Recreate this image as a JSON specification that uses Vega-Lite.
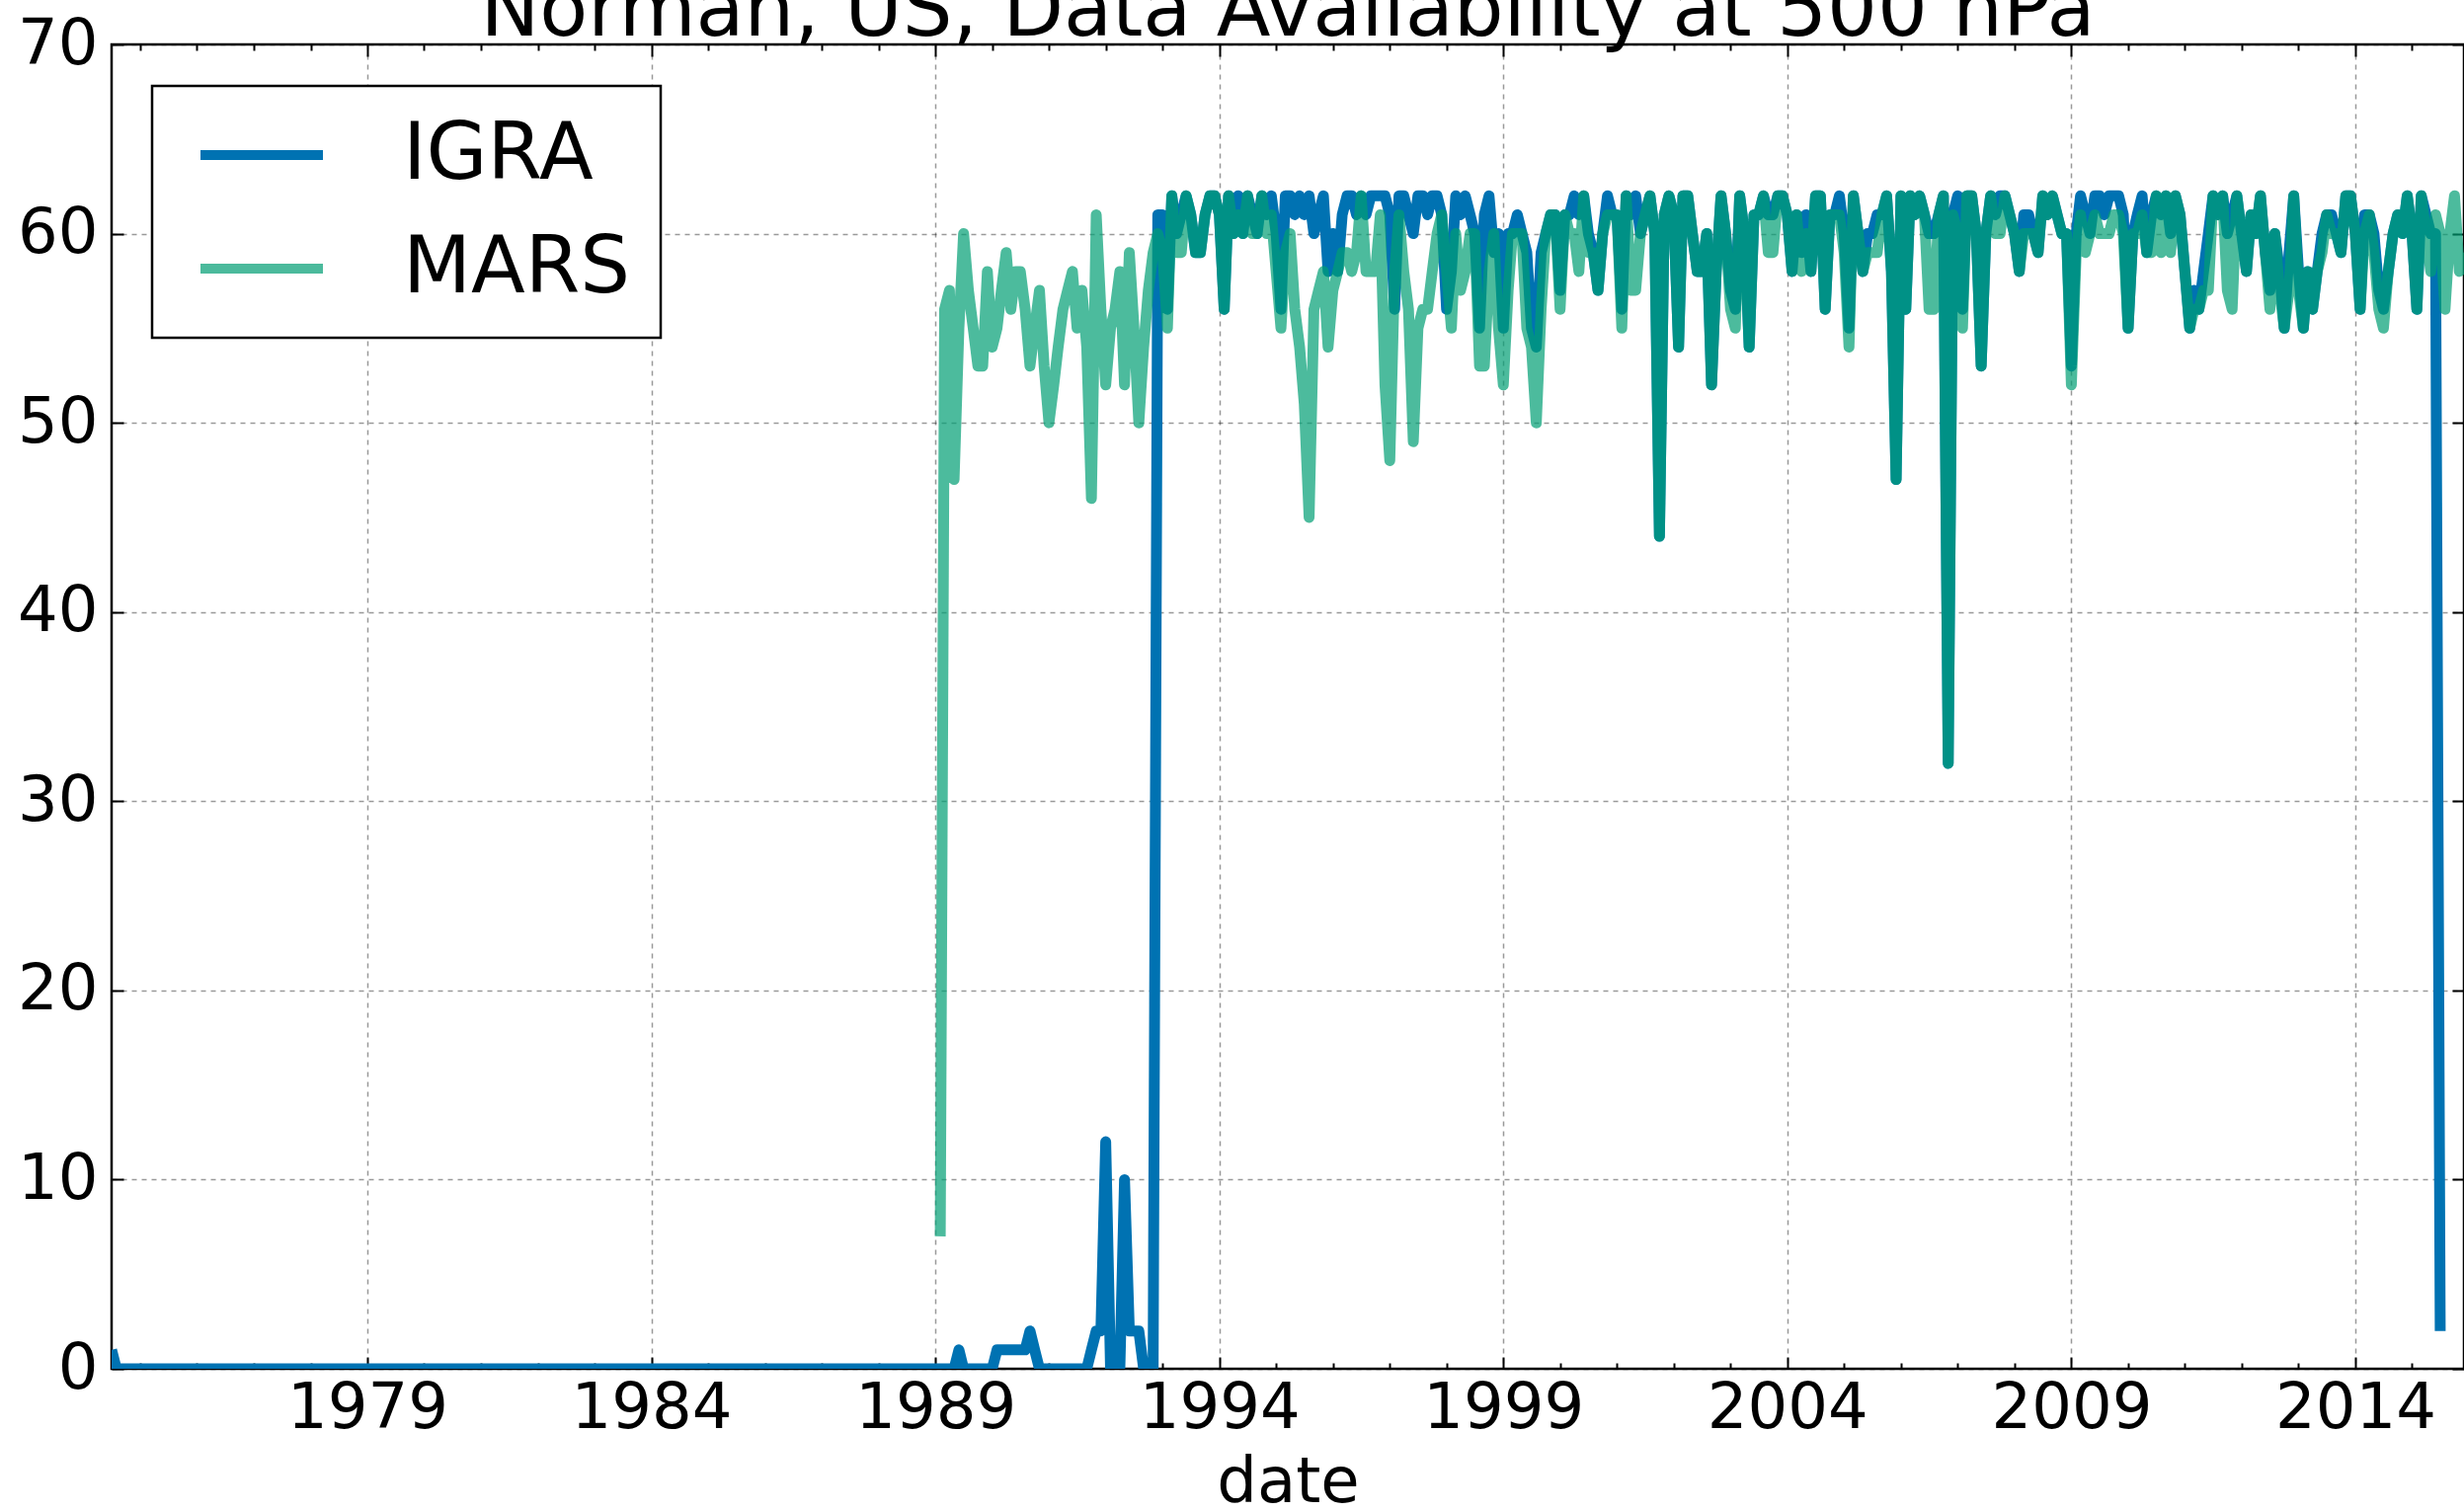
{
"$schema": "https://vega.github.io/schema/vega-lite/v6.json",
"autosize": {"type": "none"},
"padding": {"left": 113, "top": 45, "right": 0, "bottom": 145},
"width": 2382,
"height": 1341,
"background": "white",
"config": {
 "font": "DejaVu Sans",
 "view": {"stroke": "black", "strokeWidth": 2.5},
 "axis": {"domain": false, "zindex": 1, "labelFont": "DejaVu Sans", "titleFont": "DejaVu Sans", "labelFontSize": 64, "titleFontSize": 64, "labelColor": "black", "titleColor": "black", "titleFontWeight": "normal", "tickColor": "black", "tickWidth": 2, "gridColor": "black", "gridWidth": 1.5, "gridDash": [5, 5], "labelFlush": false, "labelOverlap": false},
 "legend": {"strokeWidth": 2.5}
},
"title": {"text": "Norman, US, Data Availability at 500 hPa", "fontSize": 80, "fontWeight": "normal", "font": "DejaVu Sans", "color": "black", "baseline": "alphabetic", "offset": 0, "dy": 103, "anchor": "middle"},
"data": {"values": [
{"date":"1974-07","IGRA":1},{"date":"1974-08","IGRA":0},{"date":"1974-09","IGRA":0},{"date":"1974-10","IGRA":0},{"date":"1974-11","IGRA":0},{"date":"1974-12","IGRA":0},
{"date":"1975-01","IGRA":0},{"date":"1975-02","IGRA":0},{"date":"1975-03","IGRA":0},{"date":"1975-04","IGRA":0},{"date":"1975-05","IGRA":0},{"date":"1975-06","IGRA":0},{"date":"1975-07","IGRA":0},{"date":"1975-08","IGRA":0},{"date":"1975-09","IGRA":0},{"date":"1975-10","IGRA":0},{"date":"1975-11","IGRA":0},{"date":"1975-12","IGRA":0},
{"date":"1976-01","IGRA":0},{"date":"1976-02","IGRA":0},{"date":"1976-03","IGRA":0},{"date":"1976-04","IGRA":0},{"date":"1976-05","IGRA":0},{"date":"1976-06","IGRA":0},{"date":"1976-07","IGRA":0},{"date":"1976-08","IGRA":0},{"date":"1976-09","IGRA":0},{"date":"1976-10","IGRA":0},{"date":"1976-11","IGRA":0},{"date":"1976-12","IGRA":0},
{"date":"1977-01","IGRA":0},{"date":"1977-02","IGRA":0},{"date":"1977-03","IGRA":0},{"date":"1977-04","IGRA":0},{"date":"1977-05","IGRA":0},{"date":"1977-06","IGRA":0},{"date":"1977-07","IGRA":0},{"date":"1977-08","IGRA":0},{"date":"1977-09","IGRA":0},{"date":"1977-10","IGRA":0},{"date":"1977-11","IGRA":0},{"date":"1977-12","IGRA":0},
{"date":"1978-01","IGRA":0},{"date":"1978-02","IGRA":0},{"date":"1978-03","IGRA":0},{"date":"1978-04","IGRA":0},{"date":"1978-05","IGRA":0},{"date":"1978-06","IGRA":0},{"date":"1978-07","IGRA":0},{"date":"1978-08","IGRA":0},{"date":"1978-09","IGRA":0},{"date":"1978-10","IGRA":0},{"date":"1978-11","IGRA":0},{"date":"1978-12","IGRA":0},
{"date":"1979-01","IGRA":0},{"date":"1979-02","IGRA":0},{"date":"1979-03","IGRA":0},{"date":"1979-04","IGRA":0},{"date":"1979-05","IGRA":0},{"date":"1979-06","IGRA":0},{"date":"1979-07","IGRA":0},{"date":"1979-08","IGRA":0},{"date":"1979-09","IGRA":0},{"date":"1979-10","IGRA":0},{"date":"1979-11","IGRA":0},{"date":"1979-12","IGRA":0},
{"date":"1980-01","IGRA":0},{"date":"1980-02","IGRA":0},{"date":"1980-03","IGRA":0},{"date":"1980-04","IGRA":0},{"date":"1980-05","IGRA":0},{"date":"1980-06","IGRA":0},{"date":"1980-07","IGRA":0},{"date":"1980-08","IGRA":0},{"date":"1980-09","IGRA":0},{"date":"1980-10","IGRA":0},{"date":"1980-11","IGRA":0},{"date":"1980-12","IGRA":0},
{"date":"1981-01","IGRA":0},{"date":"1981-02","IGRA":0},{"date":"1981-03","IGRA":0},{"date":"1981-04","IGRA":0},{"date":"1981-05","IGRA":0},{"date":"1981-06","IGRA":0},{"date":"1981-07","IGRA":0},{"date":"1981-08","IGRA":0},{"date":"1981-09","IGRA":0},{"date":"1981-10","IGRA":0},{"date":"1981-11","IGRA":0},{"date":"1981-12","IGRA":0},
{"date":"1982-01","IGRA":0},{"date":"1982-02","IGRA":0},{"date":"1982-03","IGRA":0},{"date":"1982-04","IGRA":0},{"date":"1982-05","IGRA":0},{"date":"1982-06","IGRA":0},{"date":"1982-07","IGRA":0},{"date":"1982-08","IGRA":0},{"date":"1982-09","IGRA":0},{"date":"1982-10","IGRA":0},{"date":"1982-11","IGRA":0},{"date":"1982-12","IGRA":0},
{"date":"1983-01","IGRA":0},{"date":"1983-02","IGRA":0},{"date":"1983-03","IGRA":0},{"date":"1983-04","IGRA":0},{"date":"1983-05","IGRA":0},{"date":"1983-06","IGRA":0},{"date":"1983-07","IGRA":0},{"date":"1983-08","IGRA":0},{"date":"1983-09","IGRA":0},{"date":"1983-10","IGRA":0},{"date":"1983-11","IGRA":0},{"date":"1983-12","IGRA":0},
{"date":"1984-01","IGRA":0},{"date":"1984-02","IGRA":0},{"date":"1984-03","IGRA":0},{"date":"1984-04","IGRA":0},{"date":"1984-05","IGRA":0},{"date":"1984-06","IGRA":0},{"date":"1984-07","IGRA":0},{"date":"1984-08","IGRA":0},{"date":"1984-09","IGRA":0},{"date":"1984-10","IGRA":0},{"date":"1984-11","IGRA":0},{"date":"1984-12","IGRA":0},
{"date":"1985-01","IGRA":0},{"date":"1985-02","IGRA":0},{"date":"1985-03","IGRA":0},{"date":"1985-04","IGRA":0},{"date":"1985-05","IGRA":0},{"date":"1985-06","IGRA":0},{"date":"1985-07","IGRA":0},{"date":"1985-08","IGRA":0},{"date":"1985-09","IGRA":0},{"date":"1985-10","IGRA":0},{"date":"1985-11","IGRA":0},{"date":"1985-12","IGRA":0},
{"date":"1986-01","IGRA":0},{"date":"1986-02","IGRA":0},{"date":"1986-03","IGRA":0},{"date":"1986-04","IGRA":0},{"date":"1986-05","IGRA":0},{"date":"1986-06","IGRA":0},{"date":"1986-07","IGRA":0},{"date":"1986-08","IGRA":0},{"date":"1986-09","IGRA":0},{"date":"1986-10","IGRA":0},{"date":"1986-11","IGRA":0},{"date":"1986-12","IGRA":0},
{"date":"1987-01","IGRA":0},{"date":"1987-02","IGRA":0},{"date":"1987-03","IGRA":0},{"date":"1987-04","IGRA":0},{"date":"1987-05","IGRA":0},{"date":"1987-06","IGRA":0},{"date":"1987-07","IGRA":0},{"date":"1987-08","IGRA":0},{"date":"1987-09","IGRA":0},{"date":"1987-10","IGRA":0},{"date":"1987-11","IGRA":0},{"date":"1987-12","IGRA":0},
{"date":"1988-01","IGRA":0},{"date":"1988-02","IGRA":0},{"date":"1988-03","IGRA":0},{"date":"1988-04","IGRA":0},{"date":"1988-05","IGRA":0},{"date":"1988-06","IGRA":0},{"date":"1988-07","IGRA":0},{"date":"1988-08","IGRA":0},{"date":"1988-09","IGRA":0},{"date":"1988-10","IGRA":0},{"date":"1988-11","IGRA":0},{"date":"1988-12","IGRA":0},
{"date":"1989-01","IGRA":0},{"date":"1989-02","IGRA":0,"MARS":7},{"date":"1989-03","IGRA":0,"MARS":56},{"date":"1989-04","IGRA":0,"MARS":57},{"date":"1989-05","IGRA":0,"MARS":47},{"date":"1989-06","IGRA":1,"MARS":55},{"date":"1989-07","IGRA":0,"MARS":60},{"date":"1989-08","IGRA":0,"MARS":57},{"date":"1989-09","IGRA":0,"MARS":55},{"date":"1989-10","IGRA":0,"MARS":53},{"date":"1989-11","IGRA":0,"MARS":53},{"date":"1989-12","IGRA":0,"MARS":58},
{"date":"1990-01","IGRA":0,"MARS":54},{"date":"1990-02","IGRA":1,"MARS":55},{"date":"1990-03","IGRA":1,"MARS":57},{"date":"1990-04","IGRA":1,"MARS":59},{"date":"1990-05","IGRA":1,"MARS":56},{"date":"1990-06","IGRA":1,"MARS":58},{"date":"1990-07","IGRA":1,"MARS":58},{"date":"1990-08","IGRA":1,"MARS":56},{"date":"1990-09","IGRA":2,"MARS":53},{"date":"1990-10","IGRA":1,"MARS":55},{"date":"1990-11","IGRA":0,"MARS":57},{"date":"1990-12","IGRA":0,"MARS":53},
{"date":"1991-01","IGRA":0,"MARS":50},{"date":"1991-02","IGRA":0,"MARS":52},{"date":"1991-03","IGRA":0,"MARS":54},{"date":"1991-04","IGRA":0,"MARS":56},{"date":"1991-05","IGRA":0,"MARS":57},{"date":"1991-06","IGRA":0,"MARS":58},{"date":"1991-07","IGRA":0,"MARS":55},{"date":"1991-08","IGRA":0,"MARS":57},{"date":"1991-09","IGRA":0,"MARS":54},{"date":"1991-10","IGRA":1,"MARS":46},{"date":"1991-11","IGRA":2,"MARS":61},{"date":"1991-12","IGRA":2,"MARS":56},
{"date":"1992-01","IGRA":12,"MARS":52},{"date":"1992-02","IGRA":0,"MARS":55},{"date":"1992-03","IGRA":0,"MARS":56},{"date":"1992-04","IGRA":0,"MARS":58},{"date":"1992-05","IGRA":10,"MARS":52},{"date":"1992-06","IGRA":2,"MARS":59},{"date":"1992-07","IGRA":2,"MARS":55},{"date":"1992-08","IGRA":2,"MARS":50},{"date":"1992-09","IGRA":0,"MARS":54},{"date":"1992-10","IGRA":0,"MARS":57},{"date":"1992-11","IGRA":0,"MARS":59},{"date":"1992-12","IGRA":61,"MARS":60},
{"date":"1993-01","IGRA":61,"MARS":59},{"date":"1993-02","IGRA":56,"MARS":55},{"date":"1993-03","IGRA":62,"MARS":62},{"date":"1993-04","IGRA":60,"MARS":59},{"date":"1993-05","IGRA":61,"MARS":59},{"date":"1993-06","IGRA":62,"MARS":62},{"date":"1993-07","IGRA":61,"MARS":61},{"date":"1993-08","IGRA":59,"MARS":59},{"date":"1993-09","IGRA":59,"MARS":59},{"date":"1993-10","IGRA":61,"MARS":61},{"date":"1993-11","IGRA":62,"MARS":62},{"date":"1993-12","IGRA":62,"MARS":62},
{"date":"1994-01","IGRA":61,"MARS":61},{"date":"1994-02","IGRA":56,"MARS":56},{"date":"1994-03","IGRA":62,"MARS":62},{"date":"1994-04","IGRA":60,"MARS":60},{"date":"1994-05","IGRA":62,"MARS":61},{"date":"1994-06","IGRA":60,"MARS":60},{"date":"1994-07","IGRA":62,"MARS":62},{"date":"1994-08","IGRA":61,"MARS":60},{"date":"1994-09","IGRA":60,"MARS":60},{"date":"1994-10","IGRA":62,"MARS":62},{"date":"1994-11","IGRA":61,"MARS":60},{"date":"1994-12","IGRA":62,"MARS":61},
{"date":"1995-01","IGRA":60,"MARS":58},{"date":"1995-02","IGRA":56,"MARS":55},{"date":"1995-03","IGRA":62,"MARS":59},{"date":"1995-04","IGRA":62,"MARS":60},{"date":"1995-05","IGRA":61,"MARS":56},{"date":"1995-06","IGRA":62,"MARS":54},{"date":"1995-07","IGRA":61,"MARS":51},{"date":"1995-08","IGRA":62,"MARS":45},{"date":"1995-09","IGRA":60,"MARS":56},{"date":"1995-10","IGRA":61,"MARS":57},{"date":"1995-11","IGRA":62,"MARS":58},{"date":"1995-12","IGRA":58,"MARS":54},
{"date":"1996-01","IGRA":60,"MARS":57},{"date":"1996-02","IGRA":58,"MARS":58},{"date":"1996-03","IGRA":61,"MARS":59},{"date":"1996-04","IGRA":62,"MARS":59},{"date":"1996-05","IGRA":62,"MARS":58},{"date":"1996-06","IGRA":61,"MARS":59},{"date":"1996-07","IGRA":62,"MARS":62},{"date":"1996-08","IGRA":61,"MARS":58},{"date":"1996-09","IGRA":62,"MARS":58},{"date":"1996-10","IGRA":62,"MARS":58},{"date":"1996-11","IGRA":62,"MARS":61},{"date":"1996-12","IGRA":62,"MARS":52},
{"date":"1997-01","IGRA":61,"MARS":48},{"date":"1997-02","IGRA":56,"MARS":58},{"date":"1997-03","IGRA":62,"MARS":61},{"date":"1997-04","IGRA":62,"MARS":58},{"date":"1997-05","IGRA":61,"MARS":56},{"date":"1997-06","IGRA":60,"MARS":49},{"date":"1997-07","IGRA":62,"MARS":55},{"date":"1997-08","IGRA":62,"MARS":56},{"date":"1997-09","IGRA":61,"MARS":56},{"date":"1997-10","IGRA":62,"MARS":58},{"date":"1997-11","IGRA":62,"MARS":60},{"date":"1997-12","IGRA":61,"MARS":61},
{"date":"1998-01","IGRA":56,"MARS":58},{"date":"1998-02","IGRA":58,"MARS":55},{"date":"1998-03","IGRA":62,"MARS":60},{"date":"1998-04","IGRA":61,"MARS":57},{"date":"1998-05","IGRA":62,"MARS":58},{"date":"1998-06","IGRA":61,"MARS":60},{"date":"1998-07","IGRA":60,"MARS":60},{"date":"1998-08","IGRA":55,"MARS":53},{"date":"1998-09","IGRA":61,"MARS":53},{"date":"1998-10","IGRA":62,"MARS":58},{"date":"1998-11","IGRA":59,"MARS":60},{"date":"1998-12","IGRA":60,"MARS":55},
{"date":"1999-01","IGRA":55,"MARS":52},{"date":"1999-02","IGRA":60,"MARS":57},{"date":"1999-03","IGRA":60,"MARS":60},{"date":"1999-04","IGRA":61,"MARS":60},{"date":"1999-05","IGRA":60,"MARS":60},{"date":"1999-06","IGRA":59,"MARS":55},{"date":"1999-07","IGRA":55,"MARS":54},{"date":"1999-08","IGRA":54,"MARS":50},{"date":"1999-09","IGRA":59,"MARS":56},{"date":"1999-10","IGRA":60,"MARS":60},{"date":"1999-11","IGRA":61,"MARS":61},{"date":"1999-12","IGRA":61,"MARS":61},
{"date":"2000-01","IGRA":57,"MARS":56},{"date":"2000-02","IGRA":61,"MARS":61},{"date":"2000-03","IGRA":61,"MARS":60},{"date":"2000-04","IGRA":62,"MARS":60},{"date":"2000-05","IGRA":61,"MARS":58},{"date":"2000-06","IGRA":62,"MARS":62},{"date":"2000-07","IGRA":60,"MARS":59},{"date":"2000-08","IGRA":59,"MARS":59},{"date":"2000-09","IGRA":57,"MARS":57},{"date":"2000-10","IGRA":60,"MARS":60},{"date":"2000-11","IGRA":62,"MARS":61},{"date":"2000-12","IGRA":61,"MARS":61},
{"date":"2001-01","IGRA":61,"MARS":61},{"date":"2001-02","IGRA":56,"MARS":55},{"date":"2001-03","IGRA":62,"MARS":62},{"date":"2001-04","IGRA":61,"MARS":57},{"date":"2001-05","IGRA":62,"MARS":57},{"date":"2001-06","IGRA":60,"MARS":60},{"date":"2001-07","IGRA":61,"MARS":61},{"date":"2001-08","IGRA":62,"MARS":62},{"date":"2001-09","IGRA":60,"MARS":60},{"date":"2001-10","IGRA":44,"MARS":44},{"date":"2001-11","IGRA":61,"MARS":61},{"date":"2001-12","IGRA":62,"MARS":62},
{"date":"2002-01","IGRA":61,"MARS":61},{"date":"2002-02","IGRA":54,"MARS":54},{"date":"2002-03","IGRA":62,"MARS":62},{"date":"2002-04","IGRA":62,"MARS":62},{"date":"2002-05","IGRA":60,"MARS":60},{"date":"2002-06","IGRA":58,"MARS":58},{"date":"2002-07","IGRA":58,"MARS":58},{"date":"2002-08","IGRA":60,"MARS":60},{"date":"2002-09","IGRA":52,"MARS":52},{"date":"2002-10","IGRA":58,"MARS":58},{"date":"2002-11","IGRA":62,"MARS":62},{"date":"2002-12","IGRA":60,"MARS":60},
{"date":"2003-01","IGRA":57,"MARS":56},{"date":"2003-02","IGRA":56,"MARS":55},{"date":"2003-03","IGRA":62,"MARS":62},{"date":"2003-04","IGRA":60,"MARS":60},{"date":"2003-05","IGRA":54,"MARS":54},{"date":"2003-06","IGRA":61,"MARS":61},{"date":"2003-07","IGRA":61,"MARS":61},{"date":"2003-08","IGRA":62,"MARS":62},{"date":"2003-09","IGRA":61,"MARS":59},{"date":"2003-10","IGRA":61,"MARS":59},{"date":"2003-11","IGRA":62,"MARS":62},{"date":"2003-12","IGRA":62,"MARS":62},
{"date":"2004-01","IGRA":61,"MARS":61},{"date":"2004-02","IGRA":58,"MARS":58},{"date":"2004-03","IGRA":61,"MARS":61},{"date":"2004-04","IGRA":59,"MARS":58},{"date":"2004-05","IGRA":61,"MARS":60},{"date":"2004-06","IGRA":58,"MARS":58},{"date":"2004-07","IGRA":62,"MARS":62},{"date":"2004-08","IGRA":62,"MARS":62},{"date":"2004-09","IGRA":56,"MARS":56},{"date":"2004-10","IGRA":61,"MARS":61},{"date":"2004-11","IGRA":61,"MARS":61},{"date":"2004-12","IGRA":62,"MARS":61},
{"date":"2005-01","IGRA":60,"MARS":59},{"date":"2005-02","IGRA":55,"MARS":54},{"date":"2005-03","IGRA":62,"MARS":62},{"date":"2005-04","IGRA":60,"MARS":60},{"date":"2005-05","IGRA":58,"MARS":58},{"date":"2005-06","IGRA":60,"MARS":59},{"date":"2005-07","IGRA":60,"MARS":59},{"date":"2005-08","IGRA":61,"MARS":59},{"date":"2005-09","IGRA":61,"MARS":61},{"date":"2005-10","IGRA":62,"MARS":62},{"date":"2005-11","IGRA":58,"MARS":58},{"date":"2005-12","IGRA":47,"MARS":47},
{"date":"2006-01","IGRA":62,"MARS":62},{"date":"2006-02","IGRA":56,"MARS":56},{"date":"2006-03","IGRA":62,"MARS":62},{"date":"2006-04","IGRA":61,"MARS":61},{"date":"2006-05","IGRA":62,"MARS":62},{"date":"2006-06","IGRA":61,"MARS":61},{"date":"2006-07","IGRA":60,"MARS":56},{"date":"2006-08","IGRA":60,"MARS":56},{"date":"2006-09","IGRA":61,"MARS":61},{"date":"2006-10","IGRA":62,"MARS":62},{"date":"2006-11","IGRA":32,"MARS":32},{"date":"2006-12","IGRA":61,"MARS":61},
{"date":"2007-01","IGRA":62,"MARS":60},{"date":"2007-02","IGRA":56,"MARS":55},{"date":"2007-03","IGRA":62,"MARS":62},{"date":"2007-04","IGRA":62,"MARS":62},{"date":"2007-05","IGRA":60,"MARS":60},{"date":"2007-06","IGRA":53,"MARS":53},{"date":"2007-07","IGRA":60,"MARS":60},{"date":"2007-08","IGRA":62,"MARS":62},{"date":"2007-09","IGRA":61,"MARS":60},{"date":"2007-10","IGRA":62,"MARS":60},{"date":"2007-11","IGRA":62,"MARS":62},{"date":"2007-12","IGRA":61,"MARS":61},
{"date":"2008-01","IGRA":60,"MARS":60},{"date":"2008-02","IGRA":58,"MARS":58},{"date":"2008-03","IGRA":61,"MARS":60},{"date":"2008-04","IGRA":61,"MARS":60},{"date":"2008-05","IGRA":60,"MARS":60},{"date":"2008-06","IGRA":59,"MARS":59},{"date":"2008-07","IGRA":62,"MARS":62},{"date":"2008-08","IGRA":61,"MARS":61},{"date":"2008-09","IGRA":62,"MARS":62},{"date":"2008-10","IGRA":61,"MARS":61},{"date":"2008-11","IGRA":60,"MARS":60},{"date":"2008-12","IGRA":60,"MARS":60},
{"date":"2009-01","IGRA":53,"MARS":52},{"date":"2009-02","IGRA":60,"MARS":59},{"date":"2009-03","IGRA":62,"MARS":61},{"date":"2009-04","IGRA":61,"MARS":59},{"date":"2009-05","IGRA":60,"MARS":60},{"date":"2009-06","IGRA":62,"MARS":61},{"date":"2009-07","IGRA":62,"MARS":60},{"date":"2009-08","IGRA":61,"MARS":60},{"date":"2009-09","IGRA":62,"MARS":60},{"date":"2009-10","IGRA":62,"MARS":61},{"date":"2009-11","IGRA":62,"MARS":61},{"date":"2009-12","IGRA":61,"MARS":60},
{"date":"2010-01","IGRA":55,"MARS":55},{"date":"2010-02","IGRA":60,"MARS":60},{"date":"2010-03","IGRA":61,"MARS":60},{"date":"2010-04","IGRA":62,"MARS":61},{"date":"2010-05","IGRA":59,"MARS":59},{"date":"2010-06","IGRA":61,"MARS":59},{"date":"2010-07","IGRA":62,"MARS":62},{"date":"2010-08","IGRA":61,"MARS":59},{"date":"2010-09","IGRA":62,"MARS":62},{"date":"2010-10","IGRA":60,"MARS":59},{"date":"2010-11","IGRA":62,"MARS":62},{"date":"2010-12","IGRA":61,"MARS":61},
{"date":"2011-01","IGRA":58,"MARS":58},{"date":"2011-02","IGRA":55,"MARS":55},{"date":"2011-03","IGRA":57,"MARS":56},{"date":"2011-04","IGRA":56,"MARS":56},{"date":"2011-05","IGRA":58,"MARS":57},{"date":"2011-06","IGRA":60,"MARS":57},{"date":"2011-07","IGRA":62,"MARS":62},{"date":"2011-08","IGRA":61,"MARS":61},{"date":"2011-09","IGRA":62,"MARS":62},{"date":"2011-10","IGRA":60,"MARS":57},{"date":"2011-11","IGRA":61,"MARS":56},{"date":"2011-12","IGRA":62,"MARS":62},
{"date":"2012-01","IGRA":60,"MARS":60},{"date":"2012-02","IGRA":58,"MARS":58},{"date":"2012-03","IGRA":61,"MARS":61},{"date":"2012-04","IGRA":60,"MARS":60},{"date":"2012-05","IGRA":62,"MARS":62},{"date":"2012-06","IGRA":59,"MARS":59},{"date":"2012-07","IGRA":57,"MARS":56},{"date":"2012-08","IGRA":60,"MARS":60},{"date":"2012-09","IGRA":58,"MARS":57},{"date":"2012-10","IGRA":55,"MARS":55},{"date":"2012-11","IGRA":59,"MARS":57},{"date":"2012-12","IGRA":62,"MARS":62},
{"date":"2013-01","IGRA":58,"MARS":57},{"date":"2013-02","IGRA":55,"MARS":55},{"date":"2013-03","IGRA":58,"MARS":58},{"date":"2013-04","IGRA":56,"MARS":56},{"date":"2013-05","IGRA":58,"MARS":58},{"date":"2013-06","IGRA":60,"MARS":59},{"date":"2013-07","IGRA":61,"MARS":61},{"date":"2013-08","IGRA":61,"MARS":60},{"date":"2013-09","IGRA":60,"MARS":60},{"date":"2013-10","IGRA":59,"MARS":59},{"date":"2013-11","IGRA":62,"MARS":62},{"date":"2013-12","IGRA":62,"MARS":62},
{"date":"2014-01","IGRA":60,"MARS":60},{"date":"2014-02","IGRA":56,"MARS":56},{"date":"2014-03","IGRA":61,"MARS":60},{"date":"2014-04","IGRA":61,"MARS":61},{"date":"2014-05","IGRA":60,"MARS":59},{"date":"2014-06","IGRA":57,"MARS":56},{"date":"2014-07","IGRA":56,"MARS":55},{"date":"2014-08","IGRA":58,"MARS":58},{"date":"2014-09","IGRA":60,"MARS":60},{"date":"2014-10","IGRA":61,"MARS":61},{"date":"2014-11","IGRA":60,"MARS":60},{"date":"2014-12","IGRA":62,"MARS":62},
{"date":"2015-01","IGRA":60,"MARS":60},{"date":"2015-02","IGRA":56,"MARS":56},{"date":"2015-03","IGRA":62,"MARS":62},{"date":"2015-04","IGRA":61,"MARS":60},{"date":"2015-05","IGRA":60,"MARS":58},{"date":"2015-06","IGRA":60,"MARS":61},{"date":"2015-07","IGRA":2,"MARS":60},{"date":"2015-08","MARS":56},{"date":"2015-09","MARS":60},{"date":"2015-10","MARS":62},{"date":"2015-11","MARS":58},{"date":"2015-12","MARS":59}
]},
"transform": [{"fold": ["IGRA", "MARS"], "as": ["series", "value"]}],
"layer": [
 {
  "mark": {"type": "line", "strokeWidth": 11, "strokeJoin": "round", "strokeCap": "butt", "clip": true, "invalid": "filter"},
  "encoding": {
   "x": {"field": "date", "type": "temporal", "title": "date",
    "scale": {"type": "utc", "domain": [{"year": 1974, "month": 7, "date": 1, "utc": true}, {"year": 2015, "month": 12, "date": 1, "utc": true}], "nice": false},
    "axis": {"orient": "bottom", "titlePadding": 5, "labelPadding": 20,
     "values": [{"year":1975,"utc":true},{"year":1976,"utc":true},{"year":1977,"utc":true},{"year":1978,"utc":true},{"year":1979,"utc":true},{"year":1980,"utc":true},{"year":1981,"utc":true},{"year":1982,"utc":true},{"year":1983,"utc":true},{"year":1984,"utc":true},{"year":1985,"utc":true},{"year":1986,"utc":true},{"year":1987,"utc":true},{"year":1988,"utc":true},{"year":1989,"utc":true},{"year":1990,"utc":true},{"year":1991,"utc":true},{"year":1992,"utc":true},{"year":1993,"utc":true},{"year":1994,"utc":true},{"year":1995,"utc":true},{"year":1996,"utc":true},{"year":1997,"utc":true},{"year":1998,"utc":true},{"year":1999,"utc":true},{"year":2000,"utc":true},{"year":2001,"utc":true},{"year":2002,"utc":true},{"year":2003,"utc":true},{"year":2004,"utc":true},{"year":2005,"utc":true},{"year":2006,"utc":true},{"year":2007,"utc":true},{"year":2008,"utc":true},{"year":2009,"utc":true},{"year":2010,"utc":true},{"year":2011,"utc":true},{"year":2012,"utc":true},{"year":2013,"utc":true},{"year":2014,"utc":true},{"year":2015,"utc":true}],
     "labelExpr": "utcyear(datum.value) % 5 == 4 ? utcFormat(datum.value, '%Y') : ''",
     "tickSize": {"condition": {"test": "utcyear(datum.value) % 5 == 4", "value": -12}, "value": -6},
     "gridOpacity": {"condition": {"test": "utcyear(datum.value) % 5 == 4", "value": 0.4}, "value": 0}}},
   "y": {"field": "value", "type": "quantitative",
    "scale": {"domain": [0, 70], "nice": false},
    "axis": {"orient": "left", "title": null, "values": [0,10,20,30,40,50,60,70], "tickSize": -12, "labelPadding": 26, "gridOpacity": 0.4}},
   "color": {"field": "series", "type": "nominal",
    "scale": {"domain": ["IGRA", "MARS"], "range": ["#0072B2", "#009E73"]},
    "legend": {"title": null, "orient": "none", "legendX": 41, "legendY": 42, "fillColor": "white", "strokeColor": "black", "padding": 30, "cornerRadius": 0, "symbolType": "M-6.2,0H6.2", "symbolSize": 400, "symbolStrokeWidth": 10, "symbolOffset": 41, "labelFontSize": 80, "labelFont": "DejaVu Sans", "labelColor": "black", "labelOffset": 103, "rowPadding": 35, "labelLimit": 1000}},
   "opacity": {"field": "series", "type": "nominal",
    "scale": {"domain": ["IGRA", "MARS"], "range": [1, 0.7]},
    "legend": {"title": null, "orient": "none", "legendX": 41, "legendY": 42, "fillColor": "white", "strokeColor": "black", "padding": 30, "cornerRadius": 0, "symbolType": "M-6.2,0H6.2", "symbolSize": 400, "symbolStrokeWidth": 10, "symbolOffset": 41, "labelFontSize": 80, "labelFont": "DejaVu Sans", "labelColor": "black", "labelOffset": 103, "rowPadding": 35, "labelLimit": 1000}}
  }
 },
 {
  "mark": {"type": "line", "opacity": 0, "clip": true, "invalid": "filter"},
  "encoding": {
   "x": {"field": "date", "type": "temporal",
    "scale": {"type": "utc", "domain": [{"year": 1974, "month": 7, "date": 1, "utc": true}, {"year": 2015, "month": 12, "date": 1, "utc": true}], "nice": false},
    "axis": {"orient": "top", "title": null, "labels": false, "grid": false,
     "values": [{"year":1975,"utc":true},{"year":1976,"utc":true},{"year":1977,"utc":true},{"year":1978,"utc":true},{"year":1979,"utc":true},{"year":1980,"utc":true},{"year":1981,"utc":true},{"year":1982,"utc":true},{"year":1983,"utc":true},{"year":1984,"utc":true},{"year":1985,"utc":true},{"year":1986,"utc":true},{"year":1987,"utc":true},{"year":1988,"utc":true},{"year":1989,"utc":true},{"year":1990,"utc":true},{"year":1991,"utc":true},{"year":1992,"utc":true},{"year":1993,"utc":true},{"year":1994,"utc":true},{"year":1995,"utc":true},{"year":1996,"utc":true},{"year":1997,"utc":true},{"year":1998,"utc":true},{"year":1999,"utc":true},{"year":2000,"utc":true},{"year":2001,"utc":true},{"year":2002,"utc":true},{"year":2003,"utc":true},{"year":2004,"utc":true},{"year":2005,"utc":true},{"year":2006,"utc":true},{"year":2007,"utc":true},{"year":2008,"utc":true},{"year":2009,"utc":true},{"year":2010,"utc":true},{"year":2011,"utc":true},{"year":2012,"utc":true},{"year":2013,"utc":true},{"year":2014,"utc":true},{"year":2015,"utc":true}],
     "tickSize": {"condition": {"test": "utcyear(datum.value) % 5 == 4", "value": -12}, "value": -6}}},
   "y": {"field": "value", "type": "quantitative",
    "scale": {"domain": [0, 70], "nice": false},
    "axis": {"orient": "right", "title": null, "labels": false, "grid": false, "values": [0,10,20,30,40,50,60,70], "tickSize": -12}}
  }
 }
],
"resolve": {"axis": {"x": "independent", "y": "independent"}}
}
